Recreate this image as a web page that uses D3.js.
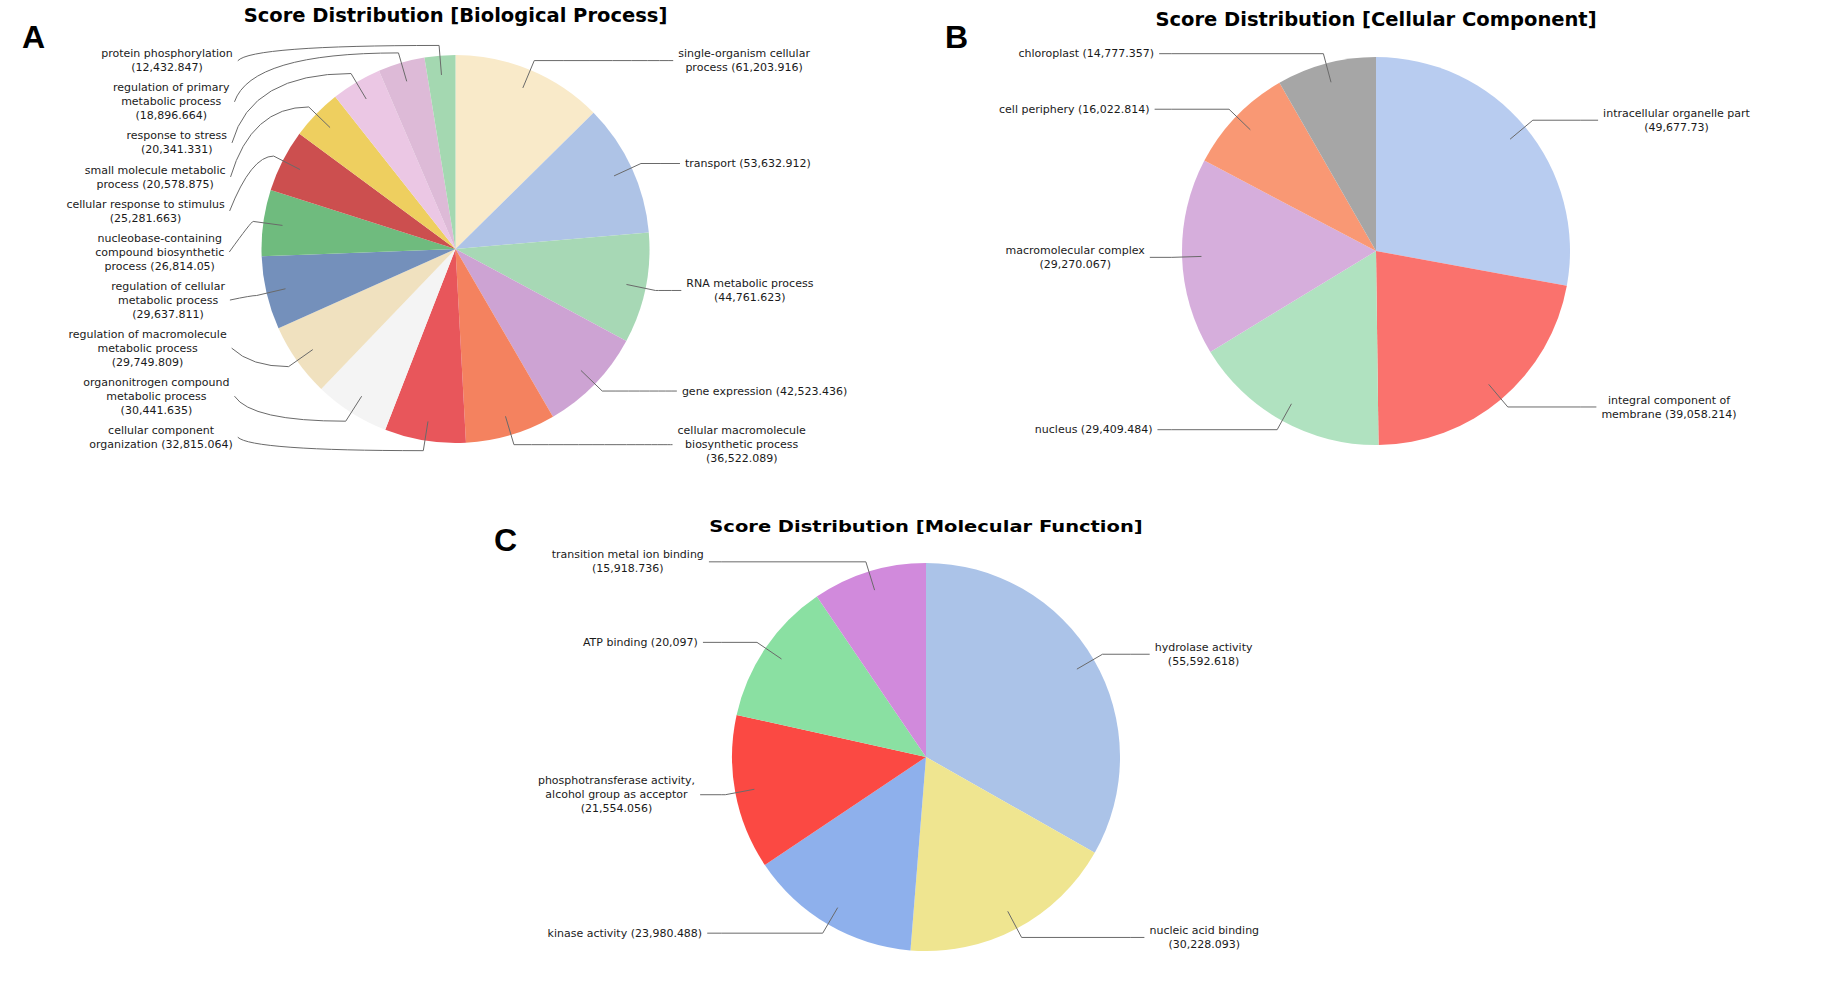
<!DOCTYPE html>
<html>
<head>
<meta charset="utf-8">
<script src="https://cdn.jsdelivr.net/npm/d3@7"></script>
<style>
  body { margin: 0; background: #fff; }
  svg { display: block; }
</style>
</head>
<body>
<script>
// ---- data: Biological Process ----
const bpNames = ["single-organism cellular process", "transport", "RNA metabolic process", "gene expression",
  "cellular macromolecule biosynthetic process", "cellular component organization",
  "organonitrogen compound metabolic process", "regulation of macromolecule metabolic process",
  "regulation of cellular metabolic process", "nucleobase-containing compound biosynthetic process",
  "cellular response to stimulus", "small molecule metabolic process", "response to stress",
  "regulation of primary metabolic process", "protein phosphorylation"];
const bpValues = [61203.916, 53632.912, 44761.623, 42523.436, 36522.089, 32815.064, 30441.635, 29749.809,
  29637.811, 26814.05, 25281.663, 20578.875, 20341.331, 18896.664, 12432.847];
const bpColors = ["#f9eac9", "#aec3e6", "#a7d8b5", "#cda3d3", "#f4825f", "#e8565b", "#f4f4f4", "#f0e1bf",
  "#7490bb", "#6fbb7e", "#cc4f4f", "#eecf5f", "#ebc7e4", "#ddbad7", "#a4d8b1"];

// ---- data: Cellular Component ----
const ccNames = ["intracellular organelle part", "integral component of membrane", "nucleus",
  "macromolecular complex", "cell periphery", "chloroplast"];
const ccValues = [49677.73, 39058.214, 29409.484, 29270.067, 16022.814, 14777.357];
const ccColors = ["#b8ccf0", "#fa726d", "#b0e2c0", "#d6aedc", "#f99874", "#a6a6a6"];

// ---- data: Molecular Function ----
const mfNames = ["hydrolase activity", "nucleic acid binding", "kinase activity",
  "phosphotransferase activity, alcohol group as acceptor", "ATP binding", "transition metal ion binding"];
const mfValues = [55592.618, 30228.093, 23980.488, 21554.056, 20097, 15918.736];
const mfColors = ["#abc3e8", "#efe590", "#8eb0ec", "#fb4943", "#8ae0a2", "#d18adc"];

const W = 1825, H = 983;
const svg = d3.select("body").append("svg").attr("width", W).attr("height", H);
const fmt = d3.format(",");
const labelFont = "11px 'DejaVu Sans'";

const probe = svg.append("text").style("font", labelFont).attr("visibility", "hidden");
const measure = s => probe.text(s).node().getComputedTextLength();

function wrap(str, maxW) {
  const words = str.split(" ");
  const lines = [];
  let cur = "";
  words.forEach(w => {
    const t = cur ? cur + " " + w : w;
    if (cur && measure(t) > maxW) { lines.push(cur); cur = w; }
    else cur = t;
  });
  lines.push(cur);
  return lines;
}

// spread labels on one side so they don't collide
function distribute(recs, minY, height, minGap = 4) {
  recs.sort((a, b) => a.baseY - b.baseY);
  recs.forEach(r => r.y = r.baseY);
  const lo = r => r.y - r.h / 2, hi = r => r.y + r.h / 2;
  const overlap = () => recs.some((r, i) => i > 0 && hi(recs[i - 1]) + minGap > lo(r) + 0.01);
  if (overlap()) {
    for (let i = 0; i < recs.length - 1; i++) {
      const r0 = recs[i], r1 = recs[i + 1];
      if (lo(r1) < hi(r0) + minGap) r1.y = Math.min(minY + height - r1.h / 2, hi(r0) + minGap + r1.h / 2);
    }
  }
  if (overlap()) {
    for (let i = recs.length - 1; i > 0; i--) {
      const r0 = recs[i], r1 = recs[i - 1];
      if (hi(r1) + minGap > lo(r0)) r1.y = Math.max(minY + r1.h / 2, lo(r0) - minGap - r1.h / 2);
    }
  }
  if (overlap()) {
    const sum = d3.sum(recs, r => r.h);
    const gap = recs.length > 1 ? (height - sum) / (recs.length - 1) : 0;
    let y = minY;
    recs.forEach(r => { y += r.h / 2; r.y = y; y += r.h / 2 + gap; });
  }
}

function drawPie(o) {
  const g = svg.append("g");
  const linkR = o.r / 0.95, lineH = 14, pad = 5;
  const arcs = d3.pie().sort(null).value(d => d)(o.values);
  const arc = d3.arc().innerRadius(0).outerRadius(o.r);

  g.append("g")
    .attr("transform", `translate(${o.cx},${o.cy})`)
    .selectAll("path")
    .data(arcs)
    .join("path")
    .attr("d", arc)
    .attr("fill", (d, i) => o.colors[i]);

  const recs = arcs.map((d, i) => {
    const mid = (d.startAngle + d.endAngle) / 2;
    const lines = wrap(o.names[i] + " (" + fmt(o.values[i]) + ")", 168);
    return { i, mid, left: mid > Math.PI, baseY: o.cy - Math.cos(mid) * linkR, lines, h: lines.length * lineH + 4 };
  });
  distribute(recs.filter(r => r.left), o.cy - linkR, 2 * linkR);
  distribute(recs.filter(r => !r.left), o.cy - linkR, 2 * linkR);

  recs.forEach(r => {
    const s = r.left ? -1 : 1;
    const lx = o.cx + Math.sin(r.mid) * o.r * 0.9, ly = o.cy - Math.cos(r.mid) * o.r * 0.9;
    const ex = o.cx + Math.sin(r.mid) * linkR, ey = o.cy - Math.cos(r.mid) * linkR;
    const ax = o.cx + s * linkR;
    const dy = r.y - o.cy;
    const tx = o.cx + s * (linkR + 22 - 10 * (dy / linkR) ** 2);
    const ty = r.y;

    const p = d3.path();
    if (o.curve) {
      p.moveTo(tx, ty);
      p.quadraticCurveTo(ax, ey, ex, ey);
      p.lineTo(lx, ly);
    } else {
      p.moveTo(lx, ly);
      p.lineTo(ex, ey);
      p.lineTo(ax, ey);
      p.lineTo(tx, ty);
    }
    g.append("path").attr("d", p.toString())
      .attr("fill", "none").attr("stroke", "#6a6a6a").attr("stroke-width", 1);

    const maxW = d3.max(r.lines, measure);
    const x = tx + s * (pad + maxW / 2);
    r.lines.forEach((t, k) => {
      const by = ty - r.h / 2 + 2 + k * lineH + 7 + 3.6 * o.labelSy;
      g.append("text")
        .attr("transform", `translate(${x},${by}) scale(1,${o.labelSy})`)
        .attr("text-anchor", "middle")
        .style("font", labelFont)
        .attr("fill", "#1a1a1a")
        .text(t);
    });
  });

  g.append("text")
    .attr("transform", `translate(${o.cx},${o.titleY}) scale(1,${o.titleSy})`)
    .attr("text-anchor", "middle")
    .style("font", "bold 19.5px 'DejaVu Sans'")
    .attr("fill", "#000")
    .text(o.title);

  svg.append("text")
    .attr("x", o.letterX).attr("y", o.letterY)
    .style("font", "bold 32px 'Liberation Sans'")
    .attr("fill", "#000")
    .text(o.letter);
}

drawPie({ title: "Score Distribution [Biological Process]", names: bpNames, values: bpValues, colors: bpColors,
  cx: 455.5, cy: 249, r: 194, titleY: 21.5, curve: true, titleSy: 1, labelSy: 1,
  letter: "A", letterX: 22, letterY: 48 });
drawPie({ title: "Score Distribution [Cellular Component]", names: ccNames, values: ccValues, colors: ccColors,
  cx: 1376, cy: 251, r: 194, titleY: 25.5, curve: false, titleSy: 1, labelSy: 1,
  letter: "B", letterX: 945, letterY: 48 });
drawPie({ title: "Score Distribution [Molecular Function]", names: mfNames, values: mfValues, colors: mfColors,
  cx: 926, cy: 757, r: 194, titleY: 531.5, curve: false, titleSy: 0.85, labelSy: 0.93,
  letter: "C", letterX: 494, letterY: 551 });

probe.remove();
</script>
</body>
</html>
